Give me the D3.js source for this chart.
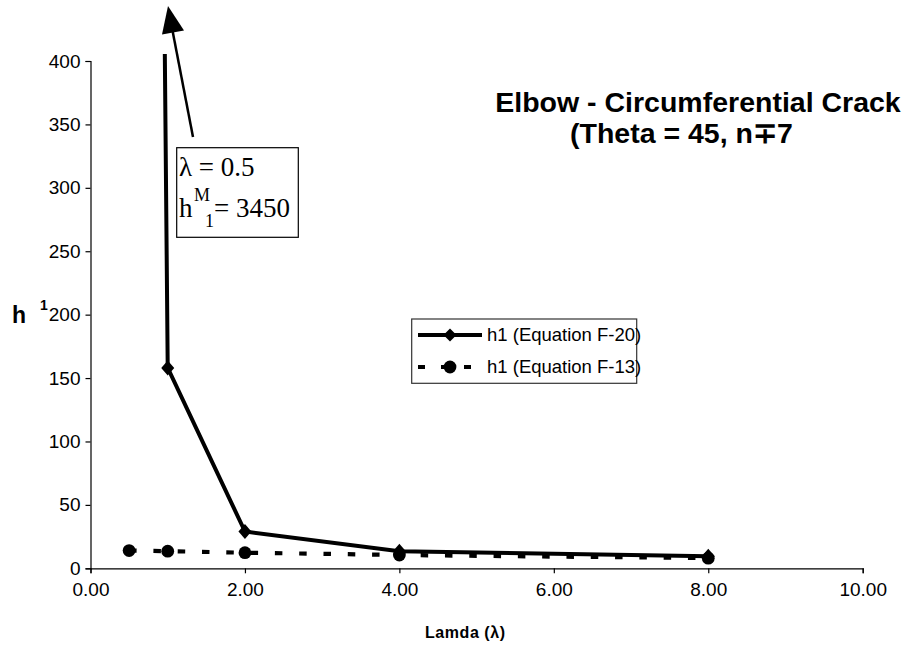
<!DOCTYPE html>
<html>
<head>
<meta charset="utf-8">
<script src="https://cdn.jsdelivr.net/npm/d3@7"></script>
<style>
  html, body { margin: 0; padding: 0; background: #fff; }
  svg { display: block; }
  text { font-family: Arial, "Liberation Sans", sans-serif; fill: #000; }
</style>
</head>
<body>
<svg id="chart" width="911" height="650"></svg>
<script>
// Lambda values and the two h1 estimates
const lambdas = [0.5, 1, 2, 4, 8];
const h1EqF20 = [3450, 158, 29, 13.5, 9.5];
const h1EqF13 = [14, 13.5, 12.3, 10.5, 8];
const xTicks = [0, 2, 4, 6, 8, 10];
const yTicks = [0, 50, 100, 150, 200, 250, 300, 350, 400];
const seriesNames = ["h1 (Equation F-20)", "h1 (Equation F-13)"];

const svg = d3.select("#chart");

const x = d3.scaleLinear().domain([0, 10]).range([90.5, 862.7]);
const y = d3.scaleLinear().domain([0, 400]).range([568.3, 61]);

// plot area clip (the F-20 curve runs far above the axis range)
svg.append("defs").append("clipPath").attr("id", "plot-clip")
  .append("rect").attr("x", 90).attr("y", 54).attr("width", 775).attr("height", 520);

// axes
const xAxis = svg.append("g").attr("transform", `translate(0,${y(0)})`)
  .call(d3.axisBottom(x).tickValues(xTicks).tickFormat(d3.format(".2f")).tickSizeOuter(0).tickSize(5).tickPadding(6));
const yAxis = svg.append("g").attr("transform", `translate(${x(0)},0)`)
  .call(d3.axisLeft(y).tickValues(yTicks).tickSizeOuter(0).tickSize(5).tickPadding(5));
[xAxis, yAxis].forEach(g => {
  g.select(".domain").attr("stroke", "#000").attr("stroke-width", 1.2);
  g.selectAll(".tick line").attr("stroke", "#000").attr("stroke-width", 1.2);
  g.selectAll(".tick text").style("font-family", "Arial, 'Liberation Sans', sans-serif")
    .style("font-size", "19px").attr("fill", "#000");
});
xAxis.selectAll(".tick text").attr("dy", "0.9em");

const plot = svg.append("g").attr("clip-path", "url(#plot-clip)");

const pts20 = lambdas.map((l, i) => [l, h1EqF20[i]]);
const pts13 = lambdas.map((l, i) => [l, h1EqF13[i]]);
const line = d3.line().x(d => x(d[0])).y(d => y(d[1]));

// Equation F-13: square-dashed line with round markers
plot.append("path").datum(pts13).attr("d", line)
  .attr("fill", "none").attr("stroke", "#000").attr("stroke-width", 4.2)
  .attr("stroke-dasharray", "7.5,16.8");
plot.selectAll("circle.f13").data(pts13).enter().append("circle")
  .attr("class", "f13").attr("cx", d => x(d[0])).attr("cy", d => y(d[1]))
  .attr("r", 6.4).attr("fill", "#000");

// Equation F-20: solid line with diamond markers
plot.append("path").datum(pts20).attr("d", line)
  .attr("fill", "none").attr("stroke", "#000").attr("stroke-width", 4)
  .attr("stroke-linejoin", "miter");
const diamond = (cx, cy, w, h) => `M${cx},${cy - h}L${cx + w},${cy}L${cx},${cy + h}L${cx - w},${cy}Z`;
plot.selectAll("path.f20m").data(pts20).enter().append("path")
  .attr("class", "f20m").attr("d", d => diamond(x(d[0]), y(d[1]), 6.5, 7.5)).attr("fill", "#000");

// title
svg.append("text").attr("x", 698).attr("y", 112).attr("text-anchor", "middle")
  .style("font-size", "28.5px").style("font-weight", "bold").text("Elbow - Circumferential Crack");
svg.append("text").attr("x", 570).attr("y", 143).attr("text-anchor", "start")
  .style("font-size", "28.5px").style("font-weight", "bold").text("(Theta = 45, n∓7");

// axis titles
svg.append("text").attr("x", 12).attr("y", 323).style("font-size", "23px").style("font-weight", "bold").text("h");
svg.append("text").attr("x", 40).attr("y", 310).style("font-size", "14px").style("font-weight", "bold").text("1");
svg.append("text").attr("x", 425).attr("y", 638).style("font-size", "16px").style("font-weight", "bold")
  .attr("textLength", 80).text("Lamda (λ)");

// legend
const lg = svg.append("g");
lg.append("rect").attr("x", 411.7).attr("y", 319).attr("width", 225).attr("height", 64.3)
  .attr("fill", "#fff").attr("stroke", "#333").attr("stroke-width", 1.2);
const rows = [335, 367];
lg.append("line").attr("x1", 418).attr("x2", 482).attr("y1", rows[0]).attr("y2", rows[0])
  .attr("stroke", "#000").attr("stroke-width", 4);
lg.append("path").attr("d", diamond(450, rows[0], 6.5, 6.5)).attr("fill", "#000");
lg.append("line").attr("x1", 418).attr("x2", 482).attr("y1", rows[1]).attr("y2", rows[1])
  .attr("stroke", "#000").attr("stroke-width", 4.2).attr("stroke-dasharray", "7,16");
lg.append("circle").attr("cx", 450).attr("cy", rows[1]).attr("r", 6.4).attr("fill", "#000");
seriesNames.forEach((s, i) => {
  lg.append("text").attr("x", 487).attr("y", rows[i]).attr("dy", "0.35em")
    .style("font-size", "18.5px").text(s);
});

// callout for the off-scale point at lambda = 0.5
const ann = svg.append("g");
ann.append("line").attr("x1", 193).attr("y1", 137).attr("x2", 172).attr("y2", 28)
  .attr("stroke", "#000").attr("stroke-width", 2.5);
ann.append("path").attr("d", "M168,6L184,30.5L162,34.6Z").attr("fill", "#000");
ann.append("rect").attr("x", 176.7).attr("y", 147.7).attr("width", 121.6).attr("height", 89.6)
  .attr("fill", "#fff").attr("stroke", "#000").attr("stroke-width", 1.2);
const serif = "'Liberation Serif', 'Times New Roman', serif";
ann.append("text").attr("x", 179).attr("y", 176).style("font-family", serif).style("font-size", "27px")
  .text("λ = 0.5");
ann.append("text").attr("x", 179).attr("y", 217).style("font-family", serif).style("font-size", "27px").text("h");
ann.append("text").attr("x", 194).attr("y", 201).style("font-family", serif).style("font-size", "18px").text("M");
ann.append("text").attr("x", 205).attr("y", 227).style("font-family", serif).style("font-size", "18px").text("1");
ann.append("text").attr("x", 214).attr("y", 217).style("font-family", serif).style("font-size", "27px").text("= 3450");
</script>
</body>
</html>
